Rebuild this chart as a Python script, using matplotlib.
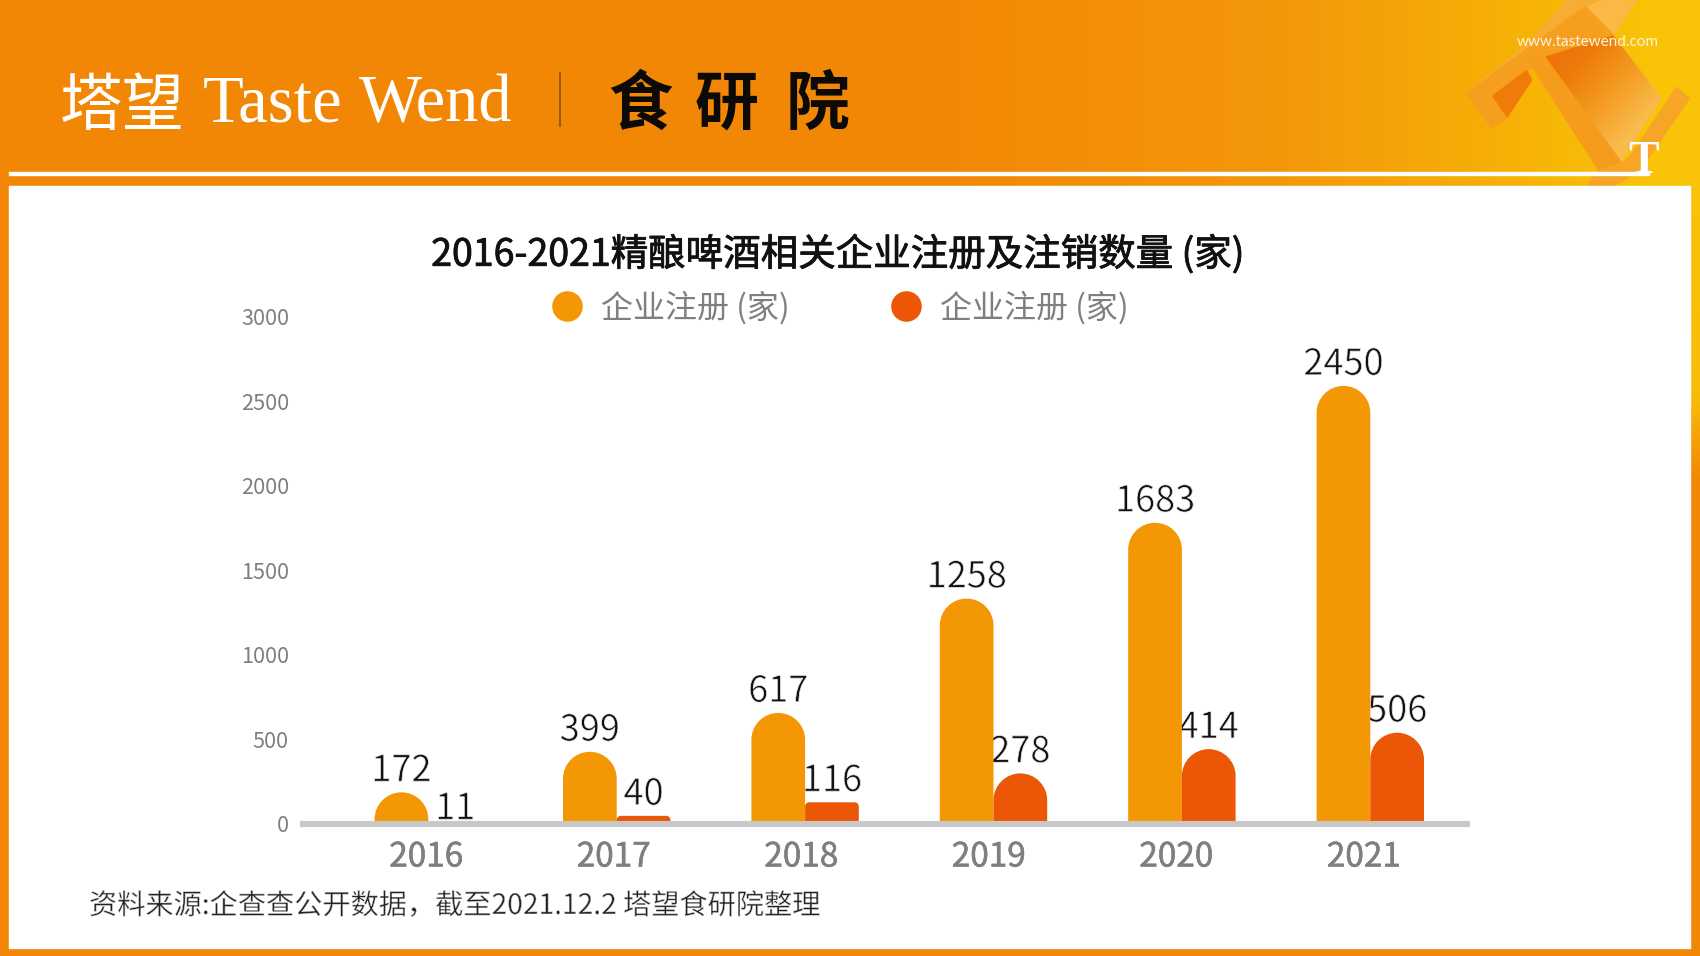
import numpy as np
import matplotlib
matplotlib.use('Agg')
import matplotlib.pyplot as plt
import matplotlib.patheffects as pe
from matplotlib.lines import Line2D
from matplotlib.patches import PathPatch, Polygon, Rectangle
from matplotlib.path import Path
from matplotlib.colors import LinearSegmentedColormap

plt.rcParams['font.family'] = ['Noto Sans CJK SC', 'DejaVu Sans']

years = ['2016', '2017', '2018', '2019', '2020', '2021']
registered = [172, 399, 617, 1258, 1683, 2450]
cancelled = [11, 40, 116, 278, 414, 506]
ytick_values = [0, 500, 1000, 1500, 2000, 2500, 3000]

title = '2016-2021精酿啤酒相关企业注册及注销数量 (家)'
series_name = '企业注册 (家)'
source = '资料来源:企查查公开数据\uff0c截至2021.12.2 塔望食研院整理'

ORANGE = '#F39704'
RED = '#EB5707'
W, H = 1700, 956

# only regular and bold cuts seem to exist, so fake medium and light with strokes
def heavier(color, lw=0.6):
    return [pe.withStroke(linewidth=lw, foreground=color)]

def lighter(lw=0.55):
    return [pe.Normal(), pe.Stroke(linewidth=lw, foreground='white')]


fig = plt.figure(figsize=(17, 9.56), dpi=100)

# page background, header banner and logo, all in pixel coordinates
bg = fig.add_axes([0, 0, 1, 1], zorder=0)
bg.add_patch(Rectangle((0, 0), W, H, color='#F28705'))

banner = LinearSegmentedColormap.from_list('banner', [(0, '#F28705'), (0.55, '#F28705'), (0.76, '#F4980A'), (0.88, '#F6AF06'), (0.97, '#F9C308'), (1, '#F9C308')])
bg.imshow(np.linspace(0, 1, 512)[None, :], extent=(0, W, 186, 0), cmap=banner, aspect='auto', zorder=1)
edge = LinearSegmentedColormap.from_list('edge', [(0, '#F9C308'), (0.72, '#F8BC08'), (1, '#F28705')])
bg.imshow(np.linspace(0, 1, 128)[:, None], extent=(1690, W, 480, 186), cmap=edge, aspect='auto', zorder=1)


def zoom_pts(pts):
    return [(1400 + x / 3, y / 3) for x, y in pts]


# 3D "T" ornament
bg.add_patch(Polygon(zoom_pts([(555, 20), (570, 0), (710, 0), (640, 105)]), color='#F9B944', zorder=2))
bg.add_patch(Polygon(zoom_pts([(200, 280), (385, 130), (500, 0), (600, 0), (555, 20), (385, 170), (215, 295)]), color='#F7AC33', zorder=2))
bg.add_patch(Polygon(zoom_pts([(200, 280), (555, 20), (640, 105), (430, 170), (385, 210), (280, 285), (325, 350), (275, 385)]), color='#F69F1E', zorder=2))
bg.add_patch(Polygon(zoom_pts([(385, 180), (430, 170), (665, 485), (595, 510)]), color='#F59C1C', zorder=2))
bg.add_patch(Polygon(zoom_pts([(690, 470), (830, 262), (868, 295), (720, 510), (640, 558), (560, 558), (595, 510), (665, 490)]), color='#F6A526', zorder=2))
bg.add_patch(Polygon(zoom_pts([(278, 288), (380, 212), (395, 240), (322, 350)]), color='#EF7C0A', zorder=3))
face = Polygon(zoom_pts([(435, 170), (640, 105), (785, 295), (665, 485)]), transform=bg.transData, fc='none', ec='none')
bg.add_patch(face)
face_cmap = LinearSegmentedColormap.from_list('face', ['#EC700A', '#EE7A0A', '#F49A20', '#F8BB4C', '#F8BE50'])
yy, xx = np.mgrid[0:1:64j, 0:1:64j]
im = bg.imshow(xx + yy, extent=(1545, 1662, 162, 35), cmap=face_cmap, aspect='auto', zorder=3)
im.set_clip_path(face)
bg.set_xlim(0, W)
bg.set_ylim(H, 0)
bg.axis('off')

bg.add_patch(Rectangle((9, 171.5), 1640, 3, color='white', zorder=4))
bg.add_patch(Rectangle((9.5, 186), 1681, 762, color='white', zorder=5))
bg.text(1628, 173, 'T', family='Liberation Serif', weight='bold', fontsize=33, color='white', ha='left', va='baseline', zorder=6)
bg.text(1588, 41.5, 'www.tastewend.com', family='Lato', fontsize=11, color='#FFF3DC', ha='center', va='center', zorder=6)

bg.text(60, 107, '塔望', fontsize=45, color='white', ha='left', va='center', zorder=6)
bg.text(203, 105, 'Taste', family='Liberation Serif', fontsize=48, color='white', ha='left', va='center', zorder=6)
bg.text(359, 105, 'Wend', family='Liberation Serif', fontsize=48, color='white', ha='left', va='center', zorder=6)
bg.plot([560, 560], [73, 126], color='#8A5A14', lw=1.3, zorder=6)
for cx, ch in zip([640, 727, 818], '食研院'):
    bg.text(cx, 105, ch, fontsize=46, weight='bold', color='#0C0A08', ha='center', va='center', zorder=6)

bg.text(838, 255, title, fontsize=27, color='#111111', ha='center', va='center', zorder=6,
        path_effects=heavier('#111111'))
bg.text(89, 906, source, fontsize=20.3, color='#222222', ha='left', va='center', zorder=6,
        path_effects=lighter(0.4))

# chart axes, placed so the px per unit match the reference
base_px, px_per_unit = 823, 0.1784
y_low, y_high = -30, 3150
left_px, right_px = 300, 1470
top_px = base_px - y_high * px_per_unit
bottom_px = base_px - y_low * px_per_unit
ax = fig.add_axes([left_px / W, 1 - bottom_px / H, (right_px - left_px) / W, (bottom_px - top_px) / H], zorder=2)
ax.patch.set_alpha(0)
first_px, step_px = 428.3, 188.4
ax.set_xlim((left_px - first_px) / step_px, (right_px - first_px) / step_px)
ax.set_ylim(y_low, y_high)


def round_bar(x0, x1, value, color):
    # bar with rounded top, radii converted from pixels to data units
    width_px = (x1 - x0) * step_px
    height_px = value * px_per_unit
    r_px = width_px / 2 if value > 150 else 4
    r_px = min(r_px, max(height_px, 0.5))
    rx = r_px / step_px
    ry = r_px / px_per_unit
    k = 0.5523
    verts = [(x0, 0), (x0, value - ry),
             (x0, value - ry + k * ry), (x0 + rx - k * rx, value), (x0 + rx, value),
             (x1 - rx, value),
             (x1 - rx + k * rx, value), (x1, value - ry + k * ry), (x1, value - ry),
             (x1, 0), (x0, 0)]
    codes = [Path.MOVETO, Path.LINETO, Path.CURVE4, Path.CURVE4, Path.CURVE4, Path.LINETO,
             Path.CURVE4, Path.CURVE4, Path.CURVE4, Path.LINETO, Path.CLOSEPOLY]
    ax.add_patch(PathPatch(Path(verts, codes), fc=color, ec='none', zorder=2))


bar_w = 0.285
for i, (a, b) in enumerate(zip(registered, cancelled)):
    round_bar(i - bar_w, i, a, ORANGE)
    round_bar(i, i + bar_w, b, RED)
    ax.annotate(str(a), (i - bar_w / 2, a), xytext=(0, 15.2), textcoords='offset points',
                ha='center', va='center', fontsize=26, color='#111111', zorder=1,
                path_effects=lighter())
    # the smallest value sits lower in the reference
    off = 8.5 if b < 20 else 15.2
    ax.annotate(str(b), (i + bar_w / 2, b), xytext=(0, off), textcoords='offset points',
                ha='center', va='center', fontsize=26, color='#111111', zorder=1,
                path_effects=lighter())

ax.axhline(-3, color='#C8C8C8', lw=4.4, zorder=3)
ax.set_axisbelow(False)

# tick labels are spaced a little tighter than the bars in the reference
ax.set_yticks([v * 0.947 - 3 for v in ytick_values], [str(v) for v in ytick_values])
ax.set_xticks([i * 0.9954 - 0.012 for i in range(len(years))], years)
ax.tick_params(axis='y', length=0, pad=8, labelsize=15.6, labelcolor='#7F7F7F')
ax.tick_params(axis='x', length=0, pad=8, labelsize=24, labelcolor='#7F7F7F')
for lab in ax.get_xticklabels():
    lab.set_path_effects(heavier('#7F7F7F', 0.4))
for s in ax.spines.values():
    s.set_visible(False)

handles = [Line2D([], [], ls='none', marker='o', ms=22, mfc=c, mec='none') for c in (ORANGE, RED)]
fig.legend(handles, [series_name, series_name], ncols=2, loc='center', bbox_to_anchor=(836.5 / W, 1 - 307.5 / H),
           frameon=False, fontsize=23, labelcolor='#7F7F7F', handletextpad=0.35, columnspacing=2.95, handlelength=1.4)

fig.savefig('out.png', dpi=100)
plt.close(fig)
